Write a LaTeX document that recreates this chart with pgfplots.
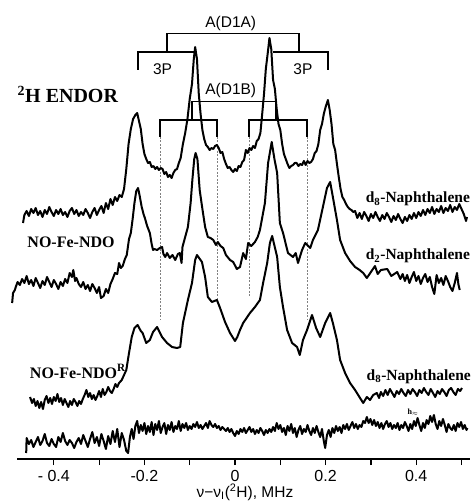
\documentclass[border=0pt]{standalone}
\usepackage{pgfplots}
\pgfplotsset{compat=1.18}
\usepackage{fontspec}
\setmainfont{Liberation Serif}
\newfontfamily\arial{Liberation Sans}
\tikzset{
  trace/.style={black, line width=2pt, line join=round},
  br/.style={black, line width=1.2pt},
  dl/.style={gray, line width=0.6pt, dash pattern=on 2pt off 1.5pt},
}

\pgfplotstableread{
x y
-0.468 236
-0.465 244
-0.460 248
-0.455 243
-0.450 250
-0.445 246
-0.440 251
-0.435 244
-0.430 248
-0.425 242
-0.420 249
-0.415 245
-0.410 252
-0.405 247
-0.400 243
-0.395 249
-0.390 245
-0.385 250
-0.380 244
-0.375 247
-0.370 242
-0.365 248
-0.360 251
-0.355 245
-0.350 249
-0.345 243
-0.340 247
-0.335 244
-0.330 250
-0.325 246
-0.320 241
-0.315 247
-0.310 251
-0.305 244
-0.300 249
-0.295 253
-0.290 246
-0.285 256
-0.280 250
-0.275 260
-0.270 254
-0.265 262
-0.260 258
-0.255 264
-0.250 262
-0.245 270
-0.240 290
-0.235 315
-0.230 330
-0.225 340
-0.220 344
-0.216 346
-0.212 338
-0.208 330
-0.204 315
-0.200 305
-0.196 300
-0.192 296
-0.188 297
-0.184 292
-0.180 293
-0.176 290
-0.172 292
-0.168 289
-0.164 291
-0.160 290
-0.156 285
-0.152 287
-0.148 282
-0.144 284
-0.140 281
-0.136 286
-0.132 289
-0.128 290
-0.124 296
-0.120 301
-0.115 315
-0.110 326
-0.105 340
-0.100 360
-0.095 375
-0.091 400
-0.088 412
-0.084 400
-0.080 365
-0.076 345
-0.072 329
-0.068 320
-0.064 314
-0.060 312
-0.056 309
-0.052 311
-0.048 310
-0.044 313
-0.040 314
-0.036 311
-0.032 306
-0.028 307
-0.024 300
-0.020 295
-0.016 291
-0.012 292
-0.008 289
-0.004 287
0.000 290
0.004 288
0.008 293
0.012 292
0.016 297
0.020 299
0.024 309
0.028 306
0.032 311
0.036 309
0.040 313
0.044 311
0.048 318
0.052 320
0.056 326
0.060 345
0.064 365
0.068 390
0.072 405
0.076 421
0.080 410
0.084 379
0.088 370
0.092 350
0.096 335
0.100 329
0.104 315
0.108 305
0.112 300
0.116 295
0.120 291
0.124 293
0.128 294
0.132 296
0.136 296
0.140 293
0.144 295
0.148 294
0.152 298
0.156 294
0.160 298
0.164 296
0.168 297
0.172 300
0.176 306
0.180 308
0.184 315
0.188 329
0.192 335
0.196 345
0.200 352
0.205 359
0.209 349
0.213 335
0.217 315
0.221 309
0.225 295
0.229 282
0.233 270
0.237 262
0.241 259
0.245 255
0.249 252
0.253 250
0.257 249
0.261 247
0.265 248
0.270 241
0.275 246
0.280 240
0.285 247
0.290 243
0.295 238
0.300 245
0.305 241
0.310 247
0.315 242
0.320 238
0.325 244
0.330 240
0.335 246
0.340 242
0.345 237
0.350 243
0.355 239
0.360 245
0.365 240
0.370 236
0.375 242
0.380 238
0.385 244
0.390 240
0.395 246
0.400 241
0.405 247
0.410 243
0.415 249
0.420 244
0.425 250
0.430 246
0.435 252
0.440 245
0.445 250
0.450 247
0.455 253
0.460 246
0.465 251
0.470 248
0.475 254
0.480 247
0.485 252
0.490 249
0.495 255
0.500 250
0.505 245
0.510 238
0.512 242
}\traceA

\pgfplotstableread{
x y
-0.492 156
-0.490 166
-0.486 169
-0.484 172
-0.480 177
-0.475 174
-0.470 180
-0.465 176
-0.460 183
-0.455 175
-0.450 179
-0.445 173
-0.440 181
-0.435 176
-0.430 171
-0.425 178
-0.420 174
-0.415 182
-0.410 177
-0.405 172
-0.400 179
-0.395 175
-0.390 170
-0.385 177
-0.380 173
-0.375 180
-0.370 176
-0.365 186
-0.360 182
-0.357 189
-0.353 178
-0.350 181
-0.345 175
-0.340 172
-0.335 177
-0.330 170
-0.325 174
-0.320 168
-0.315 175
-0.310 171
-0.305 166
-0.300 172
-0.296 161
-0.290 163
-0.285 170
-0.280 166
-0.275 175
-0.270 180
-0.265 186
-0.260 185
-0.256 196
-0.252 191
-0.248 193
-0.243 200
-0.239 204
-0.234 220
-0.230 226
-0.226 240
-0.222 256
-0.218 268
-0.214 271
-0.210 262
-0.206 252
-0.202 245
-0.199 241
-0.194 233
-0.188 226
-0.184 215
-0.181 209
-0.178 210
-0.172 209
-0.166 211
-0.161 212
-0.158 205
-0.154 202
-0.150 206
-0.144 201
-0.138 204
-0.132 199
-0.126 205
-0.122 206
-0.118 196
-0.116 212
-0.110 222
-0.104 232
-0.098 256
-0.094 280
-0.090 300
-0.087 306
-0.083 300
-0.078 269
-0.072 250
-0.066 232
-0.060 222
-0.054 221
-0.048 219
-0.042 214
-0.038 217
-0.032 213
-0.026 211
-0.020 204
-0.011 199
-0.004 197
0.004 190
0.011 192
0.018 206
0.024 200
0.029 216
0.036 213
0.044 217
0.050 222
0.055 229
0.066 256
0.073 296
0.081 317
0.087 300
0.093 286
0.099 236
0.106 226
0.117 206
0.128 202
0.134 206
0.139 196
0.148 209
0.155 216
0.166 211
0.172 219
0.183 229
0.194 252
0.203 271
0.210 277
0.216 262
0.225 239
0.232 219
0.243 206
0.254 198
0.265 192
0.275 189
0.283 186
0.291 181
0.300 187
0.309 193
0.315 185
0.322 189
0.336 190
0.345 183
0.358 187
0.365 180
0.370 185
0.375 178
0.380 184
0.385 176
0.390 182
0.395 187
0.400 178
0.405 183
0.410 175
0.415 181
0.420 185
0.425 177
0.430 182
0.435 172
0.440 165
0.445 184
0.450 176
0.455 181
0.460 174
0.465 183
0.470 178
0.475 172
0.480 168
0.485 176
0.490 186
0.493 175
0.496 169
}\traceB

\pgfplotstableread{
x y
-0.4525 62
-0.448 56
-0.444 60
-0.440 53
-0.436 58
-0.432 51
-0.428 57
-0.424 50
-0.420 59
-0.416 63
-0.412 56
-0.408 61
-0.404 55
-0.400 62
-0.396 58
-0.392 65
-0.388 57
-0.384 61
-0.380 54
-0.376 60
-0.372 56
-0.368 52
-0.364 58
-0.360 54
-0.356 60
-0.352 57
-0.348 53
-0.344 58
-0.340 55
-0.336 60
-0.332 64
-0.328 69
-0.324 62
-0.320 66
-0.316 60
-0.312 64
-0.308 59
-0.304 63
-0.300 68
-0.296 62
-0.292 70
-0.288 64
-0.284 67
-0.280 72
-0.276 68
-0.272 66
-0.268 70
-0.264 75
-0.260 72
-0.256 76
-0.250 79
-0.246 83
-0.240 89
-0.234 106
-0.228 122
-0.222 131
-0.215 134
-0.208 128
-0.204 126
-0.196 116
-0.188 119
-0.181 127
-0.172 132
-0.161 122
-0.150 116
-0.139 112
-0.128 111
-0.121 112
-0.115 136
-0.104 159
-0.095 176
-0.088 199
-0.084 204
-0.073 197
-0.066 182
-0.060 162
-0.051 157
-0.040 159
-0.033 151
-0.022 137
-0.011 126
0.000 118
0.005 122
0.011 129
0.018 136
0.033 146
0.044 152
0.055 159
0.062 176
0.071 196
0.077 216
0.082 223
0.093 202
0.099 172
0.106 152
0.115 129
0.126 116
0.137 112
0.143 104
0.150 119
0.159 129
0.170 144
0.179 131
0.188 122
0.199 136
0.210 146
0.216 136
0.225 119
0.232 99
0.243 86
0.254 76
0.265 69
0.276 61
0.283 56
0.291 62
0.298 59
0.305 64
0.313 66
0.318 61
0.322 67
0.327 63
0.332 69
0.337 64
0.342 70
0.347 66
0.352 62
0.357 68
0.362 65
0.367 70
0.372 66
0.377 63
0.382 69
0.387 65
0.392 70
0.397 67
0.402 63
0.407 69
0.412 66
0.417 71
0.422 67
0.427 64
0.432 70
0.437 66
0.442 62
0.447 68
0.452 65
0.457 70
0.462 67
0.467 63
0.472 69
0.477 71
0.482 67
0.487 64
0.492 70
0.497 68
0.501 71
}\traceC

\pgfplotstableread{
x y
-0.461 6
-0.460 21
-0.455 15
-0.450 19
-0.445 12
-0.440 17
-0.435 22
-0.430 14
-0.425 18
-0.420 25
-0.415 16
-0.410 13
-0.405 20
-0.400 15
-0.395 12
-0.390 22
-0.385 17
-0.380 26
-0.375 18
-0.370 14
-0.365 19
-0.360 16
-0.355 11
-0.350 17
-0.345 21
-0.340 15
-0.335 24
-0.330 18
-0.325 12
-0.320 20
-0.315 27
-0.310 16
-0.305 22
-0.300 13
-0.295 25
-0.290 18
-0.285 10
-0.280 23
-0.275 15
-0.270 28
-0.265 17
-0.260 30
-0.255 12
-0.250 26
-0.245 19
-0.240 8
-0.236 6
-0.232 22
-0.228 30
-0.224 20
-0.220 33
-0.216 38
-0.212 26
-0.208 34
-0.204 28
-0.200 36
-0.196 25
-0.192 33
-0.188 27
-0.184 37
-0.180 24
-0.176 35
-0.172 29
-0.168 38
-0.164 26
-0.160 32
-0.156 36
-0.152 25
-0.148 34
-0.144 29
-0.140 37
-0.136 27
-0.132 33
-0.128 30
-0.124 38
-0.120 28
-0.116 35
-0.112 31
-0.108 36
-0.104 29
-0.100 33
-0.096 30
-0.092 35
-0.088 32
-0.084 37
-0.080 31
-0.076 34
-0.072 30
-0.068 33
-0.064 36
-0.060 31
-0.056 38
-0.052 34
-0.048 32
-0.044 35
-0.040 31
-0.036 33
-0.032 29
-0.028 32
-0.024 30
-0.020 28
-0.016 31
-0.012 27
-0.008 30
-0.004 26
0.000 23
0.004 28
0.008 25
0.012 30
0.016 27
0.020 31
0.024 26
0.028 29
0.032 32
0.036 27
0.040 30
0.044 25
0.048 29
0.052 26
0.056 31
0.060 28
0.064 24
0.068 29
0.072 26
0.076 30
0.080 27
0.084 32
0.088 28
0.092 36
0.096 30
0.100 34
0.104 27
0.108 31
0.112 24
0.116 33
0.120 28
0.124 35
0.128 26
0.132 31
0.136 22
0.140 29
0.144 33
0.148 25
0.152 30
0.156 27
0.160 34
0.164 28
0.168 24
0.172 31
0.176 26
0.180 33
0.184 27
0.188 22
0.192 30
0.196 18
0.199 11
0.203 24
0.207 29
0.211 22
0.215 31
0.219 26
0.223 33
0.227 28
0.231 32
0.235 26
0.239 34
0.243 30
0.247 35
0.251 29
0.255 33
0.259 37
0.263 31
0.267 35
0.271 30
0.275 34
0.279 32
0.283 38
0.287 36
0.291 42
0.295 36
0.299 40
0.303 34
0.307 39
0.311 33
0.315 37
0.319 31
0.323 36
0.327 30
0.331 35
0.335 38
0.339 32
0.343 36
0.347 30
0.351 34
0.355 31
0.359 36
0.363 29
0.367 34
0.371 31
0.375 37
0.379 33
0.383 28
0.387 35
0.391 30
0.395 38
0.399 33
0.403 41
0.407 34
0.411 28
0.415 36
0.419 31
0.423 39
0.427 35
0.431 43
0.435 37
0.439 44
0.443 35
0.447 30
0.451 38
0.455 33
0.459 40
0.463 34
0.467 27
0.471 35
0.475 31
0.479 29
0.483 34
0.487 28
0.491 36
0.495 32
0.499 37
0.503 30
0.507 34
0.511 29
0.513 31
}\traceD

\begin{document}
\begin{tikzpicture}
\begin{axis}[
  scale only axis, width=453pt, height=459pt,
  xmin=-0.481, xmax=0.519, ymin=0, ymax=459,
  axis x line*=bottom, axis y line=none,
  clip=false,
  xtick={-0.4,-0.3,-0.2,-0.1,0,0.1,0.2,0.3,0.4,0.5},
  xticklabels={- 0.4,,-0.2,,0,,0.2,,0.4,},
  tick align=outside, major tick length=6pt,
  every tick/.style={black, line width=1.2pt},
  axis line style={line width=2pt},
  xticklabel style={font=\arial\fontsize{16}{16}\selectfont, inner sep=2pt, yshift=-3pt},
  ytick=\empty,
]
\coordinate (BL) at (axis cs:-0.5188,-42);
\coordinate (TR) at (axis cs:0.5210,459);

% brackets
\draw[br] (axis cs:-0.1501,407) -- (axis cs:-0.1501,425.5) -- (axis cs:0.1413,425.5) -- (axis cs:0.1413,407);
\draw[br] (axis cs:-0.2141,389) -- (axis cs:-0.2141,407) -- (axis cs:-0.0883,407);
\draw[br] (axis cs:0.0839,407) -- (axis cs:0.2053,407) -- (axis cs:0.2053,389);
\draw[br] (axis cs:-0.0949,339) -- (axis cs:-0.0949,357.3) -- (axis cs:0.0905,357.3) -- (axis cs:0.0905,339);
\draw[br] (axis cs:-0.1656,322) -- (axis cs:-0.1656,339) -- (axis cs:-0.0397,339) -- (axis cs:-0.0397,322);
\draw[br] (axis cs:0.0309,322) -- (axis cs:0.0309,339) -- (axis cs:0.1589,339) -- (axis cs:0.1589,322);
\draw[dl] (axis cs:-0.1656,322) -- (axis cs:-0.1656,139);
\draw[dl] (axis cs:-0.0397,322) -- (axis cs:-0.0397,159);
\draw[dl] (axis cs:0.0309,322) -- (axis cs:0.0309,161);
\draw[dl] (axis cs:0.1589,322) -- (axis cs:0.1589,139);

\addplot[trace, mark=none] table {\traceA};
\addplot[trace, mark=none] table {\traceB};
\addplot[trace, mark=none] table {\traceC};
\addplot[trace, mark=none] table {\traceD};

% labels
\node[anchor=base, inner sep=0pt, font=\arial\fontsize{15.5}{15.5}\selectfont] at (axis cs:-0.0095,431) {A(D1A)};
\node[anchor=base, inner sep=0pt, font=\arial\fontsize{15.5}{15.5}\selectfont] at (axis cs:-0.160,384) {3P};
\node[anchor=base, inner sep=0pt, font=\arial\fontsize{15.5}{15.5}\selectfont] at (axis cs:0.150,384) {3P};
\node[anchor=base, inner sep=0pt, font=\arial\fontsize{15.5}{15.5}\selectfont] at (axis cs:-0.0095,364) {A(D1B)};

\node[anchor=base, inner sep=0pt, font=\fontsize{20}{20}\selectfont\bfseries] at (axis cs:-0.369,356) {\textsuperscript{2}H ENDOR};
\node[anchor=base, inner sep=0pt, font=\fontsize{16}{16}\selectfont\bfseries] at (axis cs:-0.362,211) {NO-Fe-NDO};
\node[anchor=base, inner sep=0pt, font=\fontsize{16}{16}\selectfont\bfseries] at (axis cs:-0.347,81) {NO-Fe-NDO\textsuperscript{R}};
\node[anchor=base east, inner sep=0pt, font=\fontsize{15.5}{15.5}\selectfont\bfseries] at (axis cs:0.519,256) {d\textsubscript{8}-Naphthalene};
\node[anchor=base east, inner sep=0pt, font=\fontsize{15.5}{15.5}\selectfont\bfseries] at (axis cs:0.519,199) {d\textsubscript{2}-Naphthalene};
\node[anchor=base east, inner sep=0pt, font=\fontsize{15.5}{15.5}\selectfont\bfseries] at (axis cs:0.521,79) {d\textsubscript{8}-Naphthalene};
\node[anchor=base, inner sep=0pt, font=\fontsize{8}{8}\selectfont\bfseries] at (axis cs:0.393,45) {h$_{\approx}$};

\node[anchor=base, inner sep=0pt, font=\arial\fontsize{15.5}{15.5}\selectfont] at (axis cs:0.022,-38) {ν−ν\textsubscript{I}(\textsuperscript{2}H), MHz};
\end{axis}
\pgfresetboundingbox
\useasboundingbox (BL) rectangle (TR);
\end{tikzpicture}
\end{document}
